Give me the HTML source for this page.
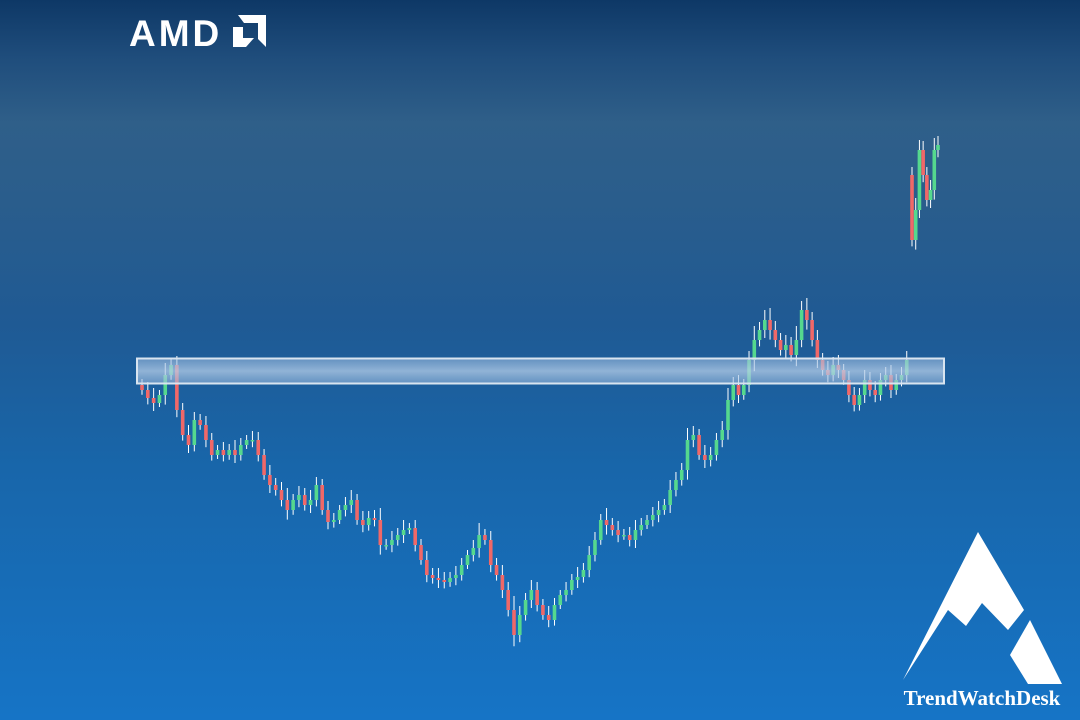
<!DOCTYPE html>
<html><head><meta charset="utf-8"><style>
html,body{margin:0;padding:0;width:1080px;height:720px;overflow:hidden}
body{background:linear-gradient(180deg,#0e3866 0%,#1f4d7c 8%,#2f5f89 17%,#2a5d8c 28%,#1f5a94 45%,#1866aa 65%,#1674c6 100%);position:relative;font-family:"Liberation Sans",sans-serif}
svg{position:absolute;left:0;top:0}
</style></head><body>
<svg width="1080" height="720">
<defs>
<linearGradient id="bandg" x1="0" y1="0" x2="0" y2="1">
<stop offset="0" stop-color="#9fbde0" stop-opacity="0.55"/>
<stop offset="0.5" stop-color="#b8d0ea" stop-opacity="0.75"/>
<stop offset="1" stop-color="#9fbde0" stop-opacity="0.55"/>
</linearGradient>
</defs>
<g id="candles"></g>
<rect x="137" y="358.5" width="807" height="25" fill="url(#bandg)" stroke="#d8e4f0" stroke-width="2"/>
<g>
<text x="129" y="46" font-family="Liberation Sans, sans-serif" font-weight="bold" font-size="37" fill="#fff" letter-spacing="3">AMD</text>
<path d="M238 15 H266 V47 L258 39 V23 H244 Z M233 27 L243 27 L243 38 L254 38 L246 47 L233 47 Z" fill="#fff"/>
</g>
<g>
<polygon points="903,680 978,532 1024,610 1008,630 982,603 966,626 948,610" fill="#fff"/>
<polygon points="1010,655 1030,620 1062,684 1028,684" fill="#fff"/>
<text x="982" y="705" text-anchor="middle" font-family="Liberation Serif, serif" font-weight="bold" font-size="21" fill="#fff">TrendWatchDesk</text>
</g>
</svg>
<script>
const closes=[330,322,317,325,345,355,310,285,275,300,295,280,265,270,265,270,265,275,280,280,265,245,235,230,220,210,220,225,215,220,235,210,198,200,210,215,220,200,195,202,200,175,175,180,185,190,192,175,160,145,142,140,138,142,145,155,165,172,185,180,155,145,130,110,85,105,120,130,115,105,100,115,125,130,140,143,150,165,180,200,195,190,185,185,180,190,195,200,205,210,215,230,240,250,280,285,265,260,265,280,290,320,335,325,335,360,380,390,400,390,380,370,375,365,380,410,400,380,360,350,345,355,350,340,325,315,325,340,330,325,340,345,330,340,345,360,480,510,570,545,520,530,570,575];
const wicks=[6,8,10,5,12,6,9,7,10,8,6,9,7,5,8,6,10,7,5,9,8,6,10,7,8,12,6,9,7,10,8,6,9,7,5,8,10,6,9,7,8,12,6,9,7,10,5,8,6,9,7,10,8,6,9,7,5,8,12,6,9,7,10,8,14,9,7,10,8,6,9,7,5,8,6,10,7,9,8,6,12,7,9,6,8,10,7,5,8,9,6,10,8,7,12,9,6,10,8,7,9,12,8,10,6,9,14,8,10,12,9,7,10,8,14,9,12,8,10,7,9,8,10,6,9,8,7,10,8,9,7,8,10,6,8,9,8,12,10,9,8,10,12,9];
const firstOpen=335;
const gapOpenIndex=136;
const gapOpenValue=545;
// layout anchors (index -> pixel x)
const anchorIdx=[0,64,101,136,143];
const anchorX=[142,514,728,912,938];
function xs(i){for(let k=0;k<anchorIdx.length-1;k++){if(i<=anchorIdx[k+1]){const t=(i-anchorIdx[k])/(anchorIdx[k+1]-anchorIdx[k]);return anchorX[k]+t*(anchorX[k+1]-anchorX[k]);}}return anchorX[anchorX.length-1];}
function ys(v){return 720-v;}
const g=document.getElementById('candles');
const NS='http://www.w3.org/2000/svg';
for(let i=0;i<closes.length;i++){
  const c=closes[i];
  const o=i===0?firstOpen:(i===gapOpenIndex?gapOpenValue:closes[i-1]);
  const wk=wicks[i%wicks.length];
  const hi=Math.max(o,c)+wk, lo=Math.min(o,c)-wk*0.8;
  const x=xs(i);
  const w=document.createElementNS(NS,'line');
  w.setAttribute('x1',x);w.setAttribute('x2',x);
  w.setAttribute('y1',ys(hi));w.setAttribute('y2',ys(lo));
  w.setAttribute('stroke','#ffffff');w.setAttribute('stroke-width','1');
  
  
  g.appendChild(w);
  const r=document.createElementNS(NS,'rect');
  const top=ys(Math.max(o,c)),bh=Math.max(1.5,Math.abs(o-c));
  r.setAttribute('x',x-1.8);r.setAttribute('width',3.6);
  r.setAttribute('y',top);r.setAttribute('height',bh);
  r.setAttribute('fill',c>=o?'#55d88e':'#f06868');
  
  
  g.appendChild(r);
}
</script>
</body></html>
